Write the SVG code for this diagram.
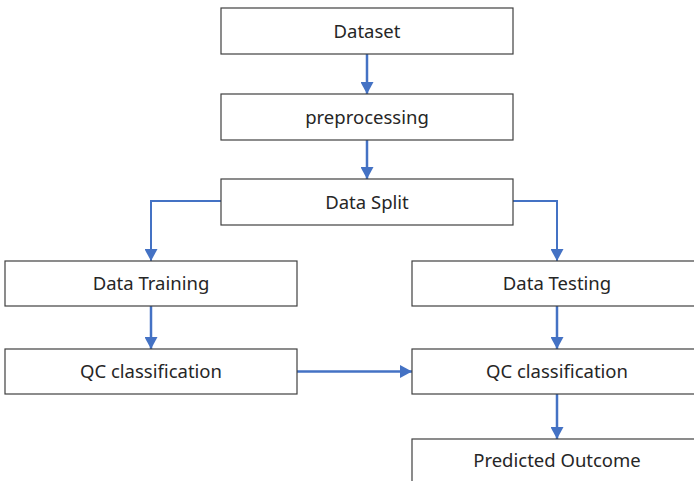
<svg xmlns="http://www.w3.org/2000/svg" width="694" height="481" viewBox="0 0 694 481">
  <style>
    .box rect { fill: #ffffff; stroke: #404040; stroke-width: 1.2; }
    .box text { font-family: "Noto Sans", "Open Sans", sans-serif; font-size: 18.5px; fill: #262626; text-anchor: middle; }
    .link { fill: none; stroke: #4472C4; stroke-width: 2.5; }
    .thin { stroke-width: 2; }
  </style>
  <defs>
    <marker id="arrow" markerUnits="userSpaceOnUse" markerWidth="14" markerHeight="13" refX="12" refY="6.5" orient="auto">
      <path d="M0,0 L12,6.5 L0,13 Z" fill="#4472C4"/>
    </marker>
  </defs>

  <g id="connectors">
    <line class="link" x1="367" y1="54" x2="367" y2="94" marker-end="url(#arrow)"/>
    <line class="link" x1="367" y1="140" x2="367" y2="179" marker-end="url(#arrow)"/>
    <polyline class="link thin" points="221,201 151,201 151,261" marker-end="url(#arrow)"/>
    <polyline class="link thin" points="513,201 557,201 557,261" marker-end="url(#arrow)"/>
    <line class="link" x1="151" y1="306" x2="151" y2="349" marker-end="url(#arrow)"/>
    <line class="link" x1="557" y1="306" x2="557" y2="349" marker-end="url(#arrow)"/>
    <line class="link" x1="297" y1="371.5" x2="412" y2="371.5" marker-end="url(#arrow)"/>
    <line class="link" x1="557" y1="394" x2="557" y2="439" marker-end="url(#arrow)"/>
  </g>

  <g id="dataset" class="box">
    <rect x="221" y="8" width="292" height="46"/>
    <text x="367" y="37.5">Dataset</text>
  </g>
  <g id="preprocessing" class="box">
    <rect x="221" y="94" width="292" height="46"/>
    <text x="367" y="123.5">preprocessing</text>
  </g>
  <g id="data-split" class="box">
    <rect x="221" y="179" width="292" height="46"/>
    <text x="367" y="208.5">Data Split</text>
  </g>
  <g id="data-training" class="box">
    <rect x="5" y="261" width="292" height="45"/>
    <text x="151" y="290">Data Training</text>
  </g>
  <g id="data-testing" class="box">
    <rect x="412" y="261" width="292" height="45"/>
    <text x="557" y="290">Data Testing</text>
  </g>
  <g id="qc-train" class="box">
    <rect x="5" y="349" width="292" height="45"/>
    <text x="151" y="378">QC classification</text>
  </g>
  <g id="qc-test" class="box">
    <rect x="412" y="349" width="292" height="45"/>
    <text x="557" y="378">QC classification</text>
  </g>
  <g id="predicted-outcome" class="box">
    <rect x="412" y="439" width="292" height="46"/>
    <text x="557" y="467">Predicted Outcome</text>
  </g>
</svg>
